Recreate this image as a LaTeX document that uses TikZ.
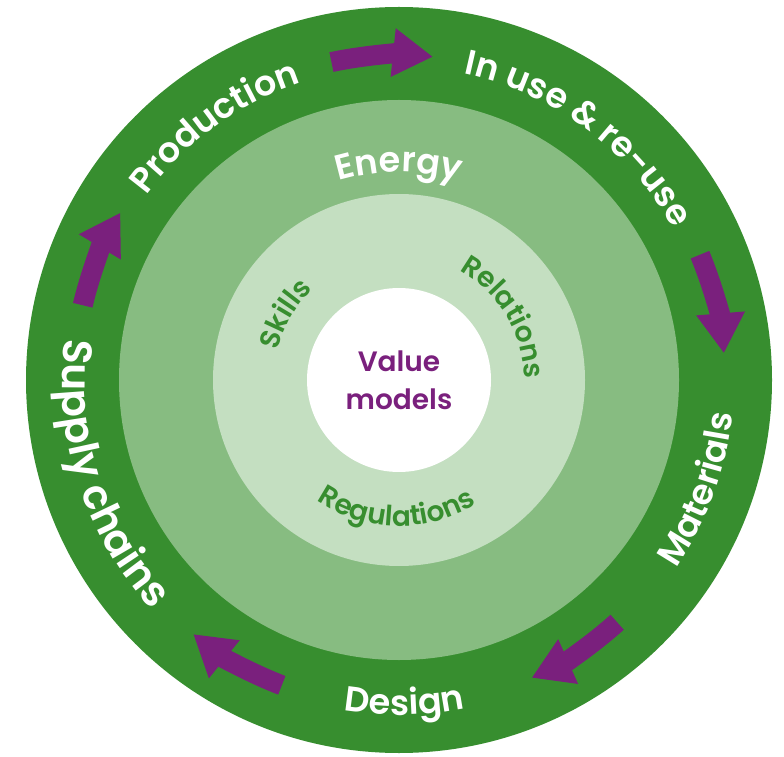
\documentclass[tikz,border=0pt]{standalone}
\usepackage{fontspec}
\setmainfont{Poppins}[BoldFont={* SemiBold}]
\usetikzlibrary{decorations.text,arrows.meta}
\definecolor{dkgreen}{HTML}{378E2F}
\definecolor{mdgreen}{HTML}{87BC81}
\definecolor{ltgreen}{HTML}{C4DFC1}
\definecolor{vpurple}{HTML}{7A207D}
\newcommand\outerfont{\fontsize{35}{40}\selectfont\bfseries}
\newcommand\bigouterfont{\fontsize{41}{46}\selectfont\bfseries}
\newcommand\innerfont{\fontsize{28}{31}\selectfont\bfseries}
\begin{document}
\begin{tikzpicture}[x=1pt,y=1pt,
  parrow/.style={draw=vpurple,line width=20pt,-{Triangle[length=40pt,width=46pt]}},
  cwtext/.style={decorate,decoration={text along path,text align=center,text color=#1}},
]
\useasboundingbox (0,0) rectangle (784,756);
\coordinate (C) at (399,376);
% rings
\fill[dkgreen] (C) circle[radius=373];
\fill[mdgreen] (C) circle[radius=280];
\fill[ltgreen] (C) circle[radius=186];
\fill[white] (C) circle[radius=92];
% arrows
\draw[parrow] ([shift={(102:325)}]C) arc[start angle=102,end angle=84,radius=325];
\draw[parrow] ([shift={(22.6:326)}]C) arc[start angle=22.6,end angle=4.7,radius=326];
\draw[parrow] ([shift={(-48:326)}]C) arc[start angle=-48,end angle=-66,radius=326];
\draw[parrow] ([shift={(249:327)}]C) arc[start angle=249,end angle=231,radius=327];
\draw[parrow] ([shift={(166.7:325)}]C) arc[start angle=166.7,end angle=149,radius=325];
% outer labels
\path[cwtext=white,decoration={text={|\outerfont|Production}}]
  ([shift={(176:313)}]C) arc[start angle=176,end angle=76,radius=313];
\path[cwtext=white,decoration={text={|\outerfont|In use {\&} re-use}}]
  ([shift={(113.5:313)}]C) arc[start angle=113.5,end angle=-6.5,radius=313];
\path[cwtext=white,decoration={text={|\outerfont|Materials}}]
  ([shift={(-70:335)}]C) arc[start angle=-70,end angle=30,radius=335];
\path[cwtext=white,decoration={text={|\outerfont|Design}}]
  ([shift={(-139:335)}]C) arc[start angle=-139,end angle=-39,radius=335];
\path[cwtext=white,decoration={text={|\bigouterfont|Supply chains}}]
  ([shift={(143:337)}]C) arc[start angle=143,end angle=253,radius=337];
% middle ring
\path[cwtext=white,decoration={text={|\outerfont|Energy}}]
  ([shift={(140:208)}]C) arc[start angle=140,end angle=40,radius=208];
% inner ring
\path[cwtext=dkgreen,decoration={text={|\innerfont|Skills}}]
  ([shift={(200:125)}]C) arc[start angle=200,end angle=100,radius=125];
\path[cwtext=dkgreen,decoration={text={|\innerfont|Relations}}]
  ([shift={(81:125)}]C) arc[start angle=81,end angle=-19,radius=125];
\path[cwtext=dkgreen,decoration={text={|\innerfont|Regulations}}]
  ([shift={(209:146)}]C) arc[start angle=209,end angle=329,radius=146];
% centre
\node[align=center,text=vpurple,font=\fontsize{28}{38}\selectfont\bfseries] (vm) at (C) {Value\\models};
\end{tikzpicture}
\end{document}
